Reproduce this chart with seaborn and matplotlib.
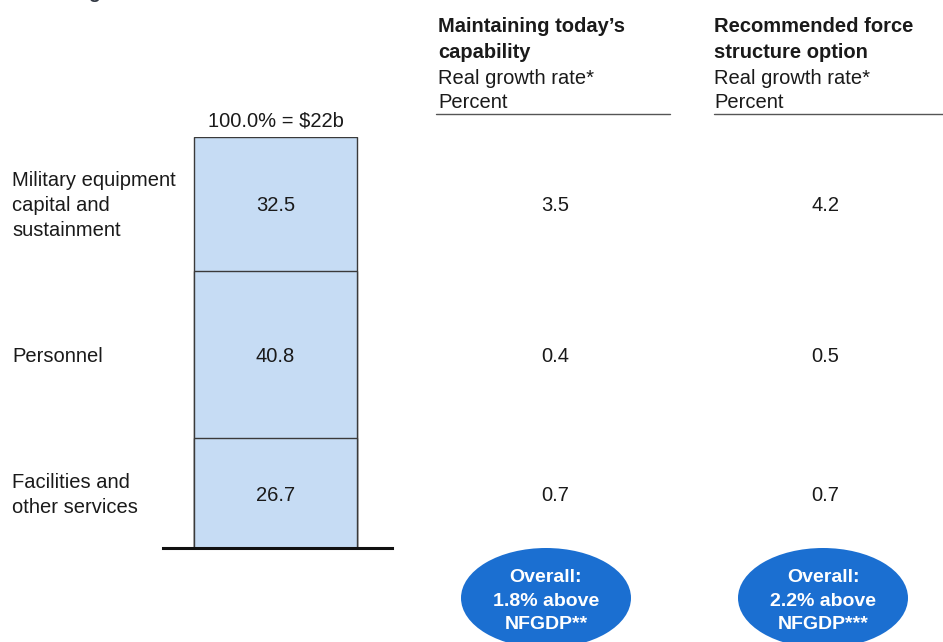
import matplotlib
matplotlib.use("Agg")
import matplotlib.pyplot as plt
from matplotlib.patches import Ellipse
import seaborn as sns
import numpy as np

# ---- data ----
categories = ["Military equipment\ncapital and\nsustainment", "Personnel", "Facilities and\nother services"]
shares = [32.5, 40.8, 26.7]          # percent of total, top to bottom
total_label = "100.0% = $22b"
growth_today = [3.5, 0.4, 0.7]
growth_recommended = [4.2, 0.5, 0.7]
col_titles = [["Maintaining today\u2019s", "capability"], ["Recommended force", "structure option"]]
col_sub = [["Real growth rate*", "Percent"], ["Real growth rate*", "Percent"]]
overall = ["Overall:\n1.8% above\nNFGDP**", "Overall:\n2.2% above\nNFGDP***"]

sns.set_theme(style="white")
plt.rcParams["font.family"] = ["Liberation Sans", "DejaVu Sans"]

W, H = 943, 642
fig = plt.figure(figsize=(W / 100, H / 100), dpi=100)

FS = 14.5
TXT = "#1a1a1a"

# ---- stacked bar (drawn as overlapping cumulative bars) ----
bx0, bx1, by_top, by_bot = 163, 392, 137, 548
ax = fig.add_axes([bx0 / W, 1 - by_bot / H, (bx1 - bx0) / W, (by_bot - by_top) / H])
fill = "#c6dcf4"
cum = np.cumsum(shares[::-1])  # 26.7, 67.5, 100
for c in cum[::-1]:
    sns.barplot(x=["bar"], y=[c], ax=ax, color=fill, width=0.8,
                edgecolor="#3a3a3a", linewidth=1.0, saturation=1)
unit = 163 / 0.8
left = -(275.5 - bx0) / unit
ax.set_xlim(left, left + (bx1 - bx0) / unit)
ax.set_ylim(0, 100)
ax.set_xticks([])
ax.set_yticks([])
ax.set_xlabel("")
ax.set_ylabel("")
for s in ["top", "left", "right"]:
    ax.spines[s].set_visible(False)
ax.spines["bottom"].set_color("#111111")
ax.spines["bottom"].set_linewidth(2.2)
ax.patch.set_alpha(0)

# overlay axes in pixel coordinates (on top)
ov = fig.add_axes([0, 0, 1, 1])
ov.set_xlim(0, W)
ov.set_ylim(H, 0)
ov.axis("off")
ov.patch.set_alpha(0)
ov.set_zorder(10)

tops = np.concatenate([[100], 100 - np.cumsum(shares)[:-1]])

def ypx_of(v):
    return by_bot - v / 100 * (by_bot - by_top)

for s, t in zip(shares, tops):
    ov.text(275.5, ypx_of(t - s / 2) + 2, f"{s:.1f}", ha="center", va="center",
            fontsize=FS, color=TXT)
ax.text(0, 101.5, total_label, ha="center", va="bottom", fontsize=FS, color=TXT)

for s, t, cat in zip(shares, tops, categories):
    ov.text(12, ypx_of(t - s / 2) + 2, cat, ha="left", va="center", fontsize=FS,
            linespacing=1.4, color=TXT)

# ---- right columns ----
col_x = [438, 714]
col_center = [555, 825]
line_ends = [(436, 670), (714, 943)]
for i in range(2):
    for j, ln in enumerate(col_titles[i]):
        ov.text(col_x[i], 27 + 26 * j, ln, ha="left", va="center", fontsize=FS,
                fontweight="bold", color=TXT)
    for j, ln in enumerate(col_sub[i]):
        ov.text(col_x[i], 78 + 25 * j, ln, ha="left", va="center", fontsize=FS, color=TXT)
    ov.plot(line_ends[i], [114, 114], color="#555555", lw=1.0)

for i, vals in enumerate([growth_today, growth_recommended]):
    for s, t, v in zip(shares, tops, vals):
        ov.text(col_center[i], ypx_of(t - s / 2) + 2, f"{v:.1f}", ha="center", va="center",
                fontsize=FS, color=TXT)

# overall ellipses
ell_c = [(546, 598), (823, 598)]
for i in range(2):
    ov.add_patch(Ellipse(ell_c[i], 170, 100, facecolor="#1b6fd1", edgecolor="none"))
    ov.text(ell_c[i][0], 601, overall[i], ha="center", va="center", fontsize=14,
            color="white", fontweight="bold", linespacing=1.5)

# cut-off title fragment at top
ov.text(94, -6, "g", ha="center", va="center", fontsize=14, fontweight="bold", color="#333a45")

fig.savefig("out.png", dpi=100)
